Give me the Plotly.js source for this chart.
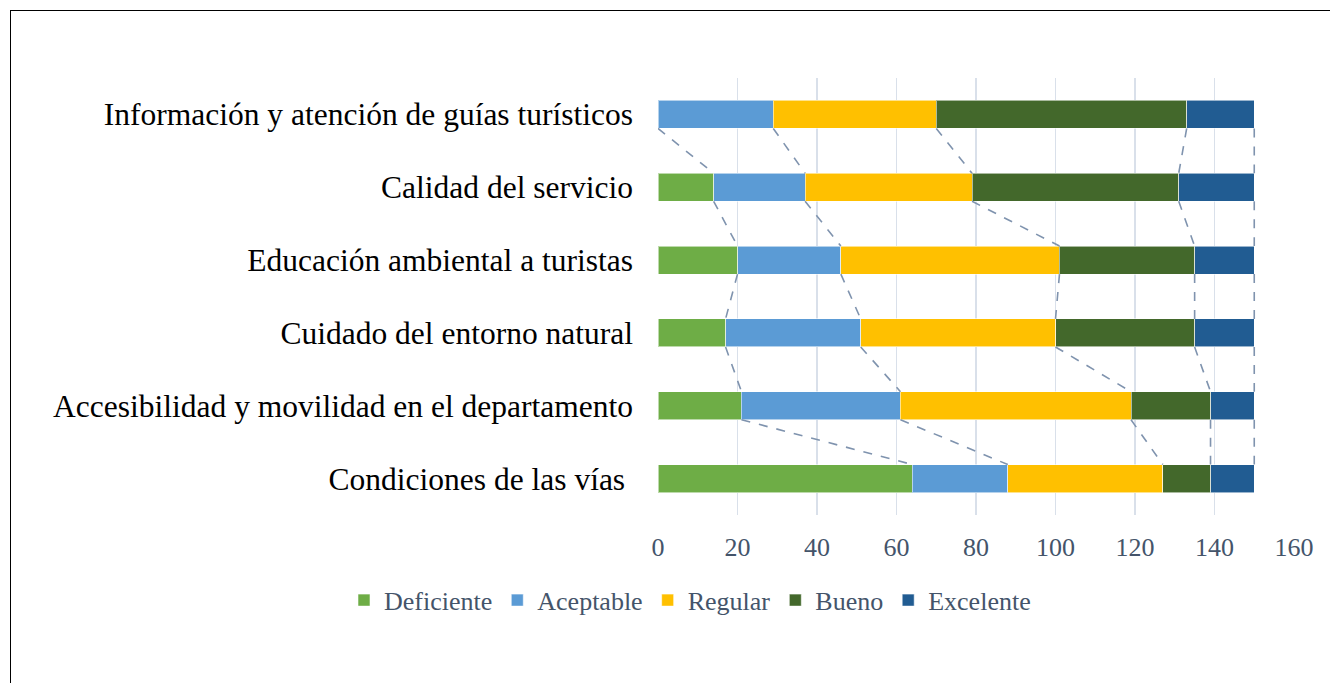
<!DOCTYPE html>
<html>
<head>
<meta charset="utf-8">
<script src="https://cdn.plot.ly/plotly-3.0.1.min.js"></script>
<style>
  html, body { margin: 0; padding: 0; background: #ffffff; }
  #chart { width: 1330px; height: 683px; position: absolute; left: 0; top: 0; }
  #frame { position: absolute; left: 10px; top: 10px; width: 1340px; height: 700px;
           border: 1.5px solid #000; box-sizing: border-box; pointer-events: none; }
</style>
</head>
<body>
<div id="chart"></div>
<div id="frame"></div>
<script>
// Categories, top to bottom as shown
const categories = [
  "Información y atención de guías turísticos",
  "Calidad del servicio",
  "Educación ambiental a turistas",
  "Cuidado del entorno natural",
  "Accesibilidad y movilidad en el departamento",
  "Condiciones de las vías "
];
const seriesNames = ["Deficiente", "Aceptable", "Regular", "Bueno", "Excelente"];
const deficiente = [0, 14, 20, 17, 21, 64];
const aceptable  = [29, 23, 26, 34, 40, 24];
const regular    = [41, 42, 55, 49, 58, 39];
const bueno      = [63, 52, 34, 35, 20, 12];
const excelente  = [17, 19, 15, 15, 11, 11];
const xTicks = [0, 20, 40, 60, 80, 100, 120, 140, 160];

const seriesValues = [deficiente, aceptable, regular, bueno, excelente];
const colors = ["#6EAD46", "#5B9BD5", "#FFC000", "#43682B", "#215C92"];

const n = categories.length;
const yPos = categories.map((c, i) => n - 1 - i);
const barW = 0.385;

const traces = seriesValues.map((vals, s) => ({
  type: "bar",
  orientation: "h",
  name: seriesNames[s],
  x: vals,
  y: yPos,
  width: barW,
  marker: { color: colors[s], line: { color: "rgba(255,255,255,0.55)", width: 1 } },
  hoverinfo: "x+name"
}));

// Series lines (dashed connectors between stacked segment boundaries)
const cum = categories.map((c, i) => {
  let acc = 0;
  return seriesValues.map(v => (acc += v[i]));
});
const lx = [], ly = [];
for (let j = 0; j < seriesNames.length; j++) {
  for (let i = 0; i < n - 1; i++) {
    lx.push(cum[i][j], cum[i + 1][j], null);
    ly.push(yPos[i] - barW / 2, yPos[i + 1] + barW / 2, null);
  }
}
traces.push({
  type: "scatter",
  mode: "lines",
  x: lx,
  y: ly,
  showlegend: false,
  hoverinfo: "skip",
  line: { color: "#7F93AE", width: 1.6, dash: "dash" }
});

const layout = {
  width: 1330,
  height: 683,
  barmode: "stack",
  paper_bgcolor: "#ffffff",
  plot_bgcolor: "#ffffff",
  margin: { l: 658, r: 36, t: 78, b: 168, pad: 0 },
  font: { family: "Liberation Serif, Times New Roman, serif", color: "#44546A" },
  xaxis: {
    range: [0, 160],
    tickvals: xTicks,
    ticktext: xTicks.map(String),
    showgrid: true,
    gridcolor: "#D9E0EA",
    gridwidth: 1.5,
    zeroline: false,
    showline: false,
    ticks: "",
    tickfont: { size: 26, color: "#44546A", family: "Liberation Serif, serif" },
    ticklabelstandoff: 14,
    fixedrange: true
  },
  yaxis: {
    range: [-0.5, 5.5],
    tickvals: yPos,
    ticktext: categories,
    showgrid: false,
    zeroline: false,
    showline: false,
    ticks: "",
    tickfont: { size: 31.5, color: "#000000", family: "Liberation Serif, serif" },
    ticklabelstandoff: 24,
    fixedrange: true
  },
  legend: {
    orientation: "h",
    xref: "paper",
    x: -0.4937,
    xanchor: "left",
    yref: "paper",
    y: -0.195,
    yanchor: "middle",
    font: { size: 26, color: "#44546A", family: "Liberation Serif, serif" },
    traceorder: "normal",
    itemwidth: 30,
    bgcolor: "rgba(0,0,0,0)"
  },
  showlegend: true
};

Plotly.newPlot("chart", traces, layout, { displayModeBar: false, staticPlot: true });
</script>
</body>
</html>
